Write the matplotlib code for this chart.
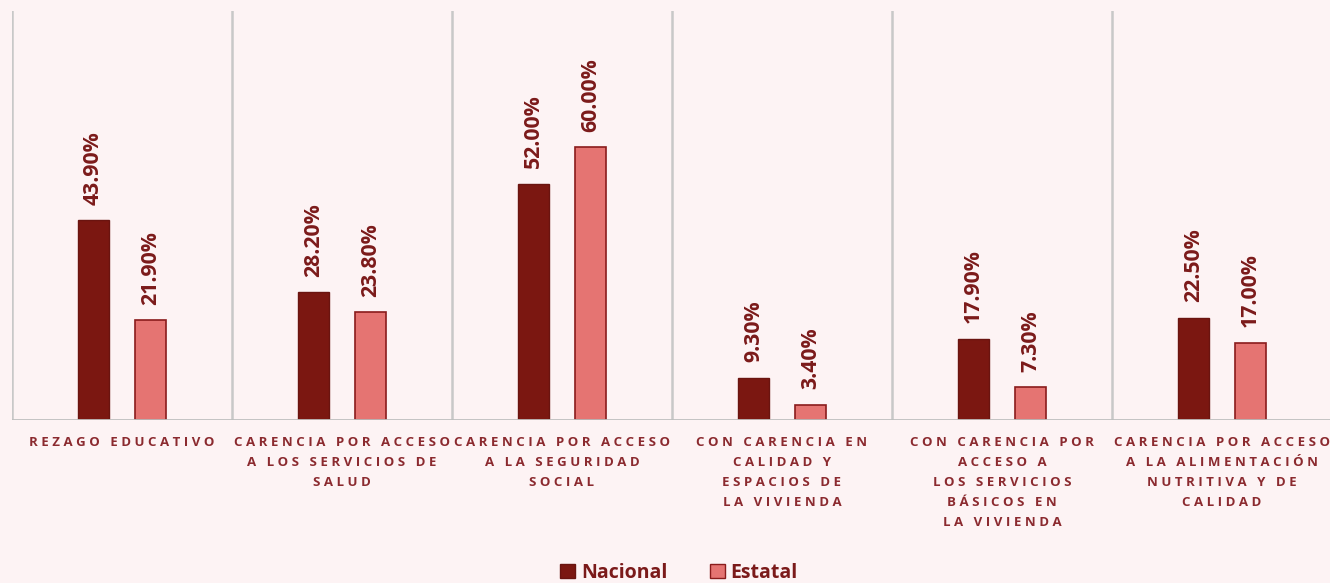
import matplotlib
matplotlib.use("Agg")
import matplotlib.pyplot as plt
import numpy as np
from matplotlib.patches import Patch

categories = [
    "REZAGO EDUCATIVO",
    "CARENCIA POR ACCESO\nA LOS SERVICIOS DE\nSALUD",
    "CARENCIA POR ACCESO\nA LA SEGURIDAD\nSOCIAL",
    "CON CARENCIA EN\nCALIDAD Y\nESPACIOS DE\nLA VIVIENDA",
    "CON CARENCIA POR\nACCESO A\nLOS SERVICIOS\nBÁSICOS EN\nLA VIVIENDA",
    "CARENCIA POR ACCESO\nA LA ALIMENTACIÓN\nNUTRITIVA Y DE\nCALIDAD",
]
nacional = [43.9, 28.2, 52.0, 9.3, 17.9, 22.5]
estatal = [21.9, 23.8, 60.0, 3.4, 7.3, 17.0]
series_names = ["Nacional", "Estatal"]

bg = "#FDF3F4"
c_nac = "#7B1711"
c_est = "#E57472"
edge = "#8A1C1C"
txt = "#7B1A1A"
lab = "#8B2A2F"

plt.rcParams['font.family'] = ['Open Sans', 'DejaVu Sans']

fig = plt.figure(figsize=(13.3, 5.83), dpi=100, facecolor=bg)
ax = fig.add_axes([12/1330, (583-420)/583, 1320/1330, 409/583])
ax.set_facecolor(bg)

x = np.arange(len(categories))
w = 0.141
off = 0.13
b1 = ax.bar(x - off, nacional, w, color=c_nac, edgecolor="#6A1410", linewidth=1, zorder=3)
b2 = ax.bar(x + off, estatal, w, color=c_est, edgecolor=edge, linewidth=1.2, zorder=3)

for bars, vals in ((b1, nacional), (b2, estatal)):
    for r, v in zip(bars, vals):
        ax.annotate(f"{v:.2f}%", (r.get_x() + r.get_width()/2, v),
                    xytext=(0, 11), textcoords="offset points",
                    rotation=90, ha="center", va="bottom",
                    fontsize=15.3, fontweight="bold", color=txt)

ax.set_xlim(-0.5, len(categories) - 0.5)
ax.set_ylim(0, 90)
for s in ax.spines.values():
    s.set_visible(False)
ax.axhline(0, color="#BFBFBF", lw=2, zorder=4)
for i in range(len(categories)):
    ax.axvline(i - 0.5, color="#C8C8C8", lw=1.8, zorder=1)
ax.set_yticks([])
ax.set_xticks([])

def spaced(s):
    lines = []
    for line in s.split("\n"):
        words = line.split(" ")
        lines.append("   ".join(" ".join(list(wd)) for wd in words))
    return "\n".join(lines)

for i, c in enumerate(categories):
    ax.text(i, -0.038, spaced(c), transform=ax.get_xaxis_transform(),
            ha="center", va="top", fontsize=9.5, fontweight="bold",
            color=lab, linespacing=1.7)

handles = [Patch(facecolor=c_nac, edgecolor="#6A1410", label=series_names[0]),
           Patch(facecolor=c_est, edgecolor=edge, label=series_names[1])]
leg = fig.legend(handles=handles, loc="center", bbox_to_anchor=(679/1330, 10/583),
                 ncol=2, frameon=False, handlelength=0.75, handleheight=0.75,
                 handletextpad=0.3, columnspacing=2.2, borderpad=0.1,
                 prop={"family": ["Open Sans", "DejaVu Sans"], "weight": "bold", "size": 14})
for t in leg.get_texts():
    t.set_color(txt)

fig.savefig("out.png", dpi=100, facecolor=bg)
